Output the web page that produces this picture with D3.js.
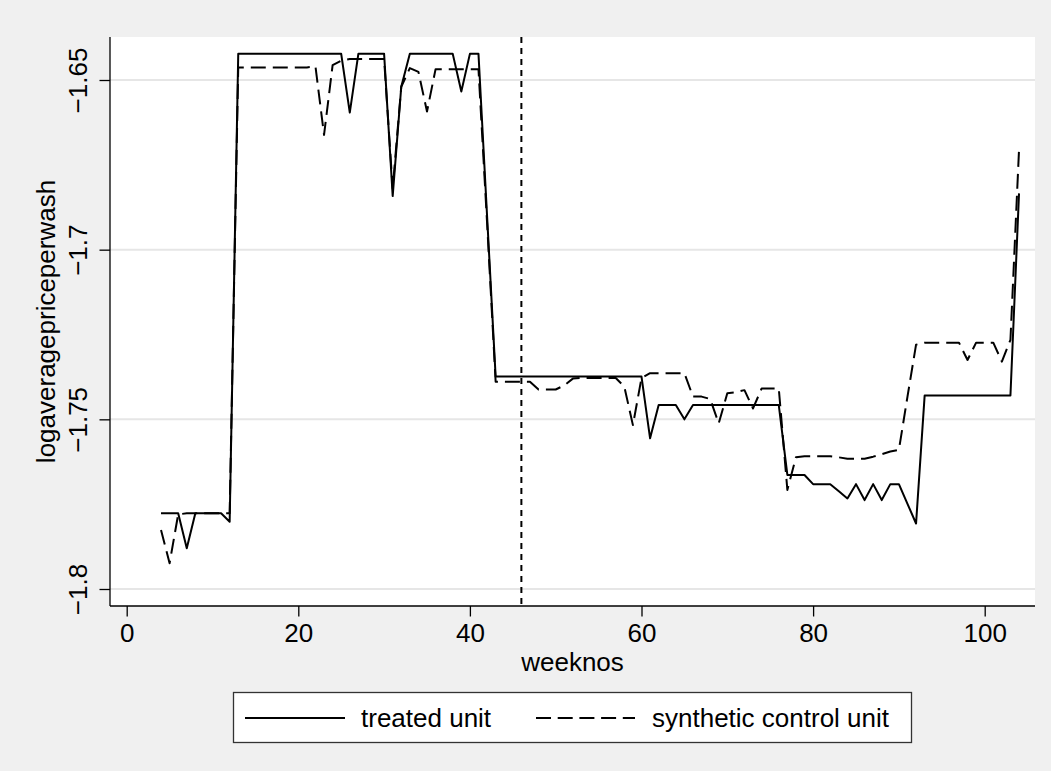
<!DOCTYPE html>
<html>
<head>
<meta charset="utf-8">
<script src="https://cdn.jsdelivr.net/npm/d3@7"></script>
<style>
  body { margin: 0; background: #f0f0f0; }
  text { font-family: "Liberation Sans", Arial, Helvetica, sans-serif; fill: #000; }
</style>
</head>
<body>
<div id="vis"></div>
<script>
// weeks on the x axis
var weeks = d3.range(4, 105);

// treated unit (solid line), weeks 4..104
var treated = [
  -1.7777, -1.7777, -1.7777, -1.7880, -1.7777, -1.7777, -1.7777, -1.7777, -1.7802,          // 4-12
  -1.6423, -1.6423, -1.6423, -1.6423, -1.6423, -1.6423, -1.6423, -1.6423, -1.6423, -1.6423,
  -1.6423, -1.6423, -1.6423,                                                                   // 13-25
  -1.6596, -1.6423, -1.6423, -1.6423, -1.6423, -1.6842, -1.6520,                               // 26-32
  -1.6423, -1.6423, -1.6423, -1.6423, -1.6423, -1.6423, -1.6534, -1.6423, -1.6423, -1.6900,   // 33-42
  -1.7374, -1.7374, -1.7374, -1.7374, -1.7374, -1.7374, -1.7374, -1.7374, -1.7374, -1.7374,
  -1.7374, -1.7374, -1.7374, -1.7374, -1.7374, -1.7374, -1.7374, -1.7374,                     // 43-60
  -1.7556, -1.7458, -1.7458, -1.7458, -1.7500,                                                 // 61-65
  -1.7458, -1.7458, -1.7458, -1.7458, -1.7458, -1.7458, -1.7458, -1.7458, -1.7458, -1.7458,
  -1.7458,                                                                                     // 66-76
  -1.7664, -1.7664, -1.7664, -1.7691, -1.7691, -1.7691, -1.7712, -1.7733, -1.7691, -1.7738,
  -1.7691, -1.7738, -1.7691, -1.7691, -1.7749, -1.7807,                                        // 77-92
  -1.7430, -1.7430, -1.7430, -1.7430, -1.7430, -1.7430, -1.7430, -1.7430, -1.7430, -1.7430,
  -1.7430, -1.6834                                                                             // 93-104
];

// synthetic control unit (dashed line), weeks 4..104
var synthetic = [
  -1.7826, -1.7924, -1.7780, -1.7777, -1.7777, -1.7777, -1.7777, -1.7777, -1.7777,          // 4-12
  -1.6463, -1.6463, -1.6463, -1.6463, -1.6463, -1.6463, -1.6463, -1.6463, -1.6463, -1.6460,   // 13-22
  -1.6662, -1.6456, -1.6443, -1.6438, -1.6438, -1.6438, -1.6438, -1.6438, -1.6820, -1.6520,   // 23-32
  -1.6465, -1.6476, -1.6593, -1.6468, -1.6468, -1.6468, -1.6468, -1.6468, -1.6468, -1.6920,   // 33-42
  -1.7389, -1.7389, -1.7389, -1.7389, -1.7389, -1.7412, -1.7412, -1.7412, -1.7400, -1.7380,   // 43-52
  -1.7378, -1.7378, -1.7378, -1.7378, -1.7378, -1.7404, -1.7517, -1.7378,                     // 53-60
  -1.7364, -1.7364, -1.7364, -1.7364, -1.7364, -1.7433, -1.7433, -1.7440, -1.7512, -1.7423,   // 61-70
  -1.7420, -1.7414, -1.7468, -1.7409, -1.7409, -1.7409,                                        // 71-76
  -1.7708, -1.7612, -1.7609, -1.7609, -1.7609, -1.7609, -1.7612, -1.7616, -1.7616, -1.7616,   // 77-86
  -1.7610, -1.7603, -1.7595, -1.7590, -1.7433, -1.7280,                                        // 87-92
  -1.7274, -1.7274, -1.7274, -1.7274, -1.7274, -1.7325, -1.7274, -1.7274, -1.7274, -1.7330,
  -1.7266, -1.6706                                                                             // 93-104
];

var xTicks = [0, 20, 40, 60, 80, 100];
var yTicks = [-1.8, -1.75, -1.7, -1.65];
var treatmentWeek = 46;
var seriesNames = ['treated unit', 'synthetic control unit'];

// size of the whole picture and the plot region
var width = 1051;
var height = 771;
var plot = { left: 110, right: 1035, top: 37, bottom: 606 };

var x = d3.scaleLinear().domain([0, 100]).range([126.7, 984.7]);
var y = d3.scaleLinear().domain([-1.8, -1.65]).range([589, 80]);

var fmt = d3.format('.3~g');

var svg = d3.select('#vis').append('svg')
  .attr('width', width)
  .attr('height', height);

svg.append('rect')
  .attr('width', width)
  .attr('height', height)
  .attr('fill', '#f0f0f0');

// plot region
svg.append('rect')
  .attr('x', plot.left)
  .attr('y', plot.top)
  .attr('width', plot.right - plot.left)
  .attr('height', plot.bottom - plot.top)
  .attr('fill', '#fff');

// horizontal grid lines
svg.append('g')
  .attr('class', 'grid')
  .selectAll('line')
  .data(yTicks)
  .enter().append('line')
  .attr('x1', plot.left)
  .attr('x2', plot.right)
  .attr('y1', function (d) { return y(d); })
  .attr('y2', function (d) { return y(d); })
  .style('stroke', '#e6e6e6')
  .style('stroke-width', '2px');

// y axis
var yAxis = svg.append('g')
  .attr('transform', 'translate(' + plot.left + ',0)')
  .call(d3.axisLeft(y).tickValues(yTicks).tickSize(10.5).tickPadding(0).tickFormat(fmt));
yAxis.select('.domain').remove();
yAxis.selectAll('.tick line').style('stroke', '#000').style('stroke-width', '1.3px');
yAxis.selectAll('.tick text')
  .attr('x', null).attr('dy', null)
  .attr('transform', 'translate(-23,0) rotate(-90)')
  .attr('text-anchor', 'middle')
  .style('font-size', '26px')
  .style('font-family', '"Liberation Sans", Arial, sans-serif');

// x axis
var xAxis = svg.append('g')
  .attr('transform', 'translate(0,' + plot.bottom + ')')
  .call(d3.axisBottom(x).tickValues(xTicks).tickSize(10.5).tickPadding(0).tickFormat(fmt));
xAxis.select('.domain').remove();
xAxis.selectAll('.tick line').style('stroke', '#000').style('stroke-width', '1.3px');
xAxis.selectAll('.tick text')
  .attr('y', 35.5).attr('dy', null)
  .style('font-size', '26px')
  .style('font-family', '"Liberation Sans", Arial, sans-serif');

// axis lines
svg.append('line')
  .attr('x1', plot.left).attr('x2', plot.left)
  .attr('y1', plot.top).attr('y2', plot.bottom)
  .style('stroke', '#000').style('stroke-width', '1.3px');
svg.append('line')
  .attr('x1', plot.left).attr('x2', plot.right)
  .attr('y1', plot.bottom).attr('y2', plot.bottom)
  .style('stroke', '#000').style('stroke-width', '1.3px');

// axis titles
svg.append('text')
  .attr('transform', 'translate(55,' + ((plot.top + plot.bottom) / 2) + ') rotate(-90)')
  .attr('text-anchor', 'middle')
  .style('font-size', '26px')
  .text('logaveragepriceperwash');

svg.append('text')
  .attr('x', (plot.left + plot.right) / 2)
  .attr('y', 670.5)
  .attr('text-anchor', 'middle')
  .style('font-size', '26px')
  .text('weeknos');

// vertical line at the treatment week
svg.append('line')
  .attr('x1', x(treatmentWeek)).attr('x2', x(treatmentWeek))
  .attr('y1', plot.top).attr('y2', plot.bottom)
  .style('stroke', '#000')
  .style('stroke-width', '2px')
  .style('stroke-dasharray', '6,5');

var line = d3.line()
  .x(function (d) { return x(d[0]); })
  .y(function (d) { return y(d[1]); });

svg.append('path')
  .datum(d3.zip(weeks, treated))
  .attr('d', line)
  .style('fill', 'none')
  .style('stroke', '#000')
  .style('stroke-width', '2px')
  .style('stroke-linejoin', 'round');

svg.append('path')
  .datum(d3.zip(weeks, synthetic))
  .attr('d', line)
  .style('fill', 'none')
  .style('stroke', '#000')
  .style('stroke-width', '2px')
  .style('stroke-dasharray', '15,7')
  .style('stroke-linejoin', 'round');

// legend
var legend = svg.append('g').attr('class', 'legend');
legend.append('rect')
  .attr('x', 233.5).attr('y', 692.5)
  .attr('width', 678).attr('height', 50)
  .attr('fill', '#fff')
  .style('stroke', '#333')
  .style('stroke-width', '1.3px');

var legendItems = [
  { name: seriesNames[0], x0: 245, x1: 345, tx: 361, dash: null },
  { name: seriesNames[1], x0: 536, x1: 635, tx: 652, dash: '15,6.7' }
];

legendItems.forEach(function (it) {
  legend.append('line')
    .attr('x1', it.x0).attr('x2', it.x1)
    .attr('y1', 718).attr('y2', 718)
    .style('stroke', '#000')
    .style('stroke-width', '2px')
    .style('stroke-dasharray', it.dash);
  legend.append('text')
    .attr('x', it.tx).attr('y', 727)
    .style('font-size', '26px')
    .text(it.name);
});
</script>
</body>
</html>
